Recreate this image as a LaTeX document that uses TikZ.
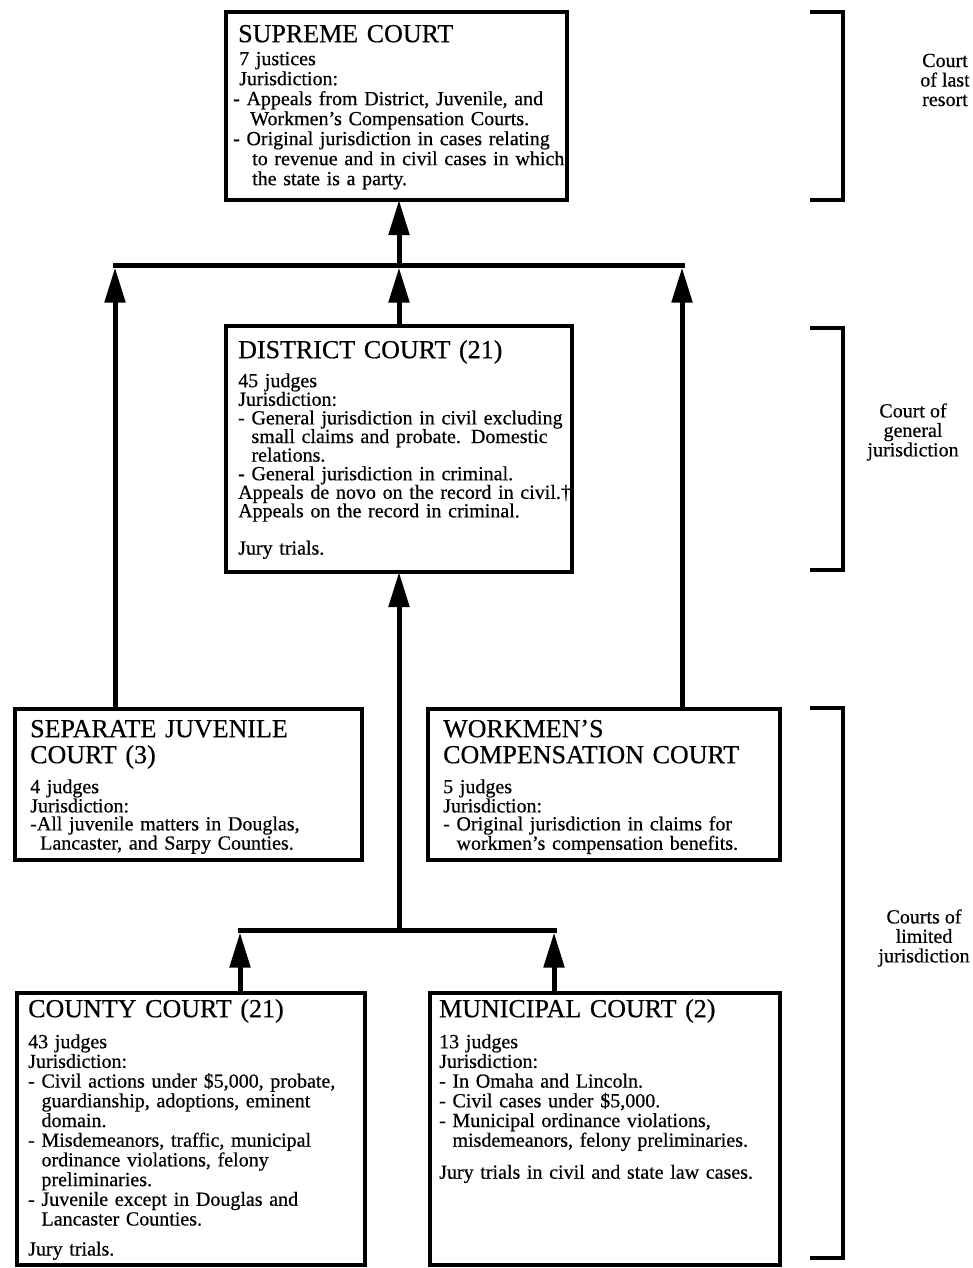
\documentclass[tikz,border=0pt]{standalone}
\usepackage{fontspec}
\setmainfont{Liberation Serif}[FakeBold=0.5]
\usetikzlibrary{arrows.meta}
\lineskiplimit=-100pt
\lineskip=0pt
\begin{document}
\begin{tikzpicture}[x=1pt,y=-1pt,
  courtbox/.style={draw, line width=3.2pt, anchor=north west, inner sep=0pt, outer sep=0pt},
  titletext/.style={anchor=north west, inner sep=0pt, text width=345pt, align=left, font={\fontsize{26}{26}\selectfont}},
  bodytext/.style={anchor=north west, inner sep=0pt, text width=345pt, align=left, font={\fontsize{20}{#1}\selectfont}},
  conn/.style={line width=5pt, line cap=rect},
  arr/.style={line width=5pt, -{Triangle[length=35pt,width=20pt]}},
  bracket/.style={line width=3.5pt},
  sidelabel/.style={align=center, inner sep=0pt, font={\fontsize{20}{19.5}\selectfont}}
]
\fill[white] (0,0) rectangle (973,1268);
\useasboundingbox (0,0) rectangle (973,1268);

% ---- boxes ----
\node[courtbox, minimum width=341pt, minimum height=188pt] (sup) at (226,12) {};
\node[courtbox, minimum width=346pt, minimum height=246pt] (dist) at (226,326) {};
\node[courtbox, minimum width=347pt, minimum height=151pt] (juv) at (15,709) {};
\node[courtbox, minimum width=352pt, minimum height=151pt] (work) at (428,709) {};
\node[courtbox, minimum width=348pt, minimum height=272pt] (county) at (17,993) {};
\node[courtbox, minimum width=350pt, minimum height=272pt] (muni) at (430,993) {};

% ---- titles ----
\node[titletext] (supT) at (238,22) {\rule{0pt}{20pt}SUPREME COURT};
\node[titletext] (distT) at (238,338) {\rule{0pt}{20pt}DISTRICT COURT (21)};
\node[titletext] (juvT) at (30,717) {\rule{0pt}{20pt}SEPARATE JUVENILE\\COURT (3)};
\node[titletext] (workT) at (443,717) {\rule{0pt}{20pt}WORKMEN’S\\COMPENSATION COURT};
\node[titletext] (countyT) at (28,997) {\rule{0pt}{20pt}COUNTY COURT (21)};
\node[titletext] (muniT) at (439,997) {\rule{0pt}{20pt}MUNICIPAL COURT (2)};

% ---- bodies ----
\node[bodytext=20] (supB) at (239,50) {\rule{0pt}{15pt}7 justices\\
Jurisdiction:\\
\hspace*{-6pt}- Appeals from District, Juvenile, and\\
\hspace*{11pt}Workmen’s Compensation Courts.\\
\hspace*{-6pt}- Original jurisdiction in cases relating\\
\hspace*{13pt}to revenue and in civil cases in which\\
\hspace*{13pt}the state is a party.};

\node[bodytext=18.6] (distB) at (238,372) {\rule{0pt}{15pt}45 judges\\
Jurisdiction:\\
- General jurisdiction in civil excluding\\
\hphantom{- }small claims and probate. Domestic\\
\hphantom{- }relations.\\
- General jurisdiction in criminal.\\
Appeals de novo on the record in civil.†\\
Appeals on the record in criminal.\\[18.6pt]
Jury trials.};

\node[bodytext=18] (juvB) at (30,778) {\rule{0pt}{15pt}4 judges\\
Jurisdiction:\\
-All juvenile matters in Douglas,\\
\hspace*{10pt}Lancaster, and Sarpy Counties.};

\node[bodytext=18] (workB) at (443,778) {\rule{0pt}{15pt}5 judges\\
Jurisdiction:\\
- Original jurisdiction in claims for\\
\hphantom{- }workmen’s compensation benefits.};

\node[bodytext=19.7] (countyB) at (28,1033) {\rule{0pt}{15pt}43 judges\\
Jurisdiction:\\
- Civil actions under \$5,000, probate,\\
\hphantom{- }guardianship, adoptions, eminent\\
\hphantom{- }domain.\\
- Misdemeanors, traffic, municipal\\
\hphantom{- }ordinance violations, felony\\
\hphantom{- }preliminaries.\\
- Juvenile except in Douglas and\\
\hphantom{- }Lancaster Counties.\\[10.3pt]
Jury trials.};

\node[bodytext=19.7] (muniB) at (439,1033) {\rule{0pt}{15pt}13 judges\\
Jurisdiction:\\
- In Omaha and Lincoln.\\
- Civil cases under \$5,000.\\
- Municipal ordinance violations,\\
\hphantom{- }misdemeanors, felony preliminaries.\\[12.3pt]
Jury trials in civil and state law cases.};

% ---- connectors ----
\coordinate (busU) at (399,265);
\coordinate (busUL) at (115,265);
\coordinate (busUR) at (682,265);
\coordinate (busD) at (399,930);
\coordinate (busDL) at (240,930);
\coordinate (busDR) at (554,930);

\draw[conn] (busUL) -- (busUR);
\draw[arr] (busU) -- (busU |- sup.south);
\draw[arr] (dist.north) -- ([yshift=-2.5pt]busU);
\draw[arr] (juv.north -| busUL) -- ([yshift=-2.5pt]busUL);
\draw[arr] (work.north -| busUR) -- ([yshift=-2.5pt]busUR);

\draw[conn] (busDL) -- (busDR);
\draw[arr] (busD) -- (dist.south);
\draw[arr] (county.north -| busDL) -- ([yshift=-2.5pt]busDL);
\draw[arr] (muni.north -| busDR) -- ([yshift=-2.5pt]busDR);

% ---- brackets ----
\draw[bracket] (810,12) -- (843,12) -- (843,200) -- (810,200);
\draw[bracket] (810,328) -- (843,328) -- (843,570) -- (810,570);
\draw[bracket] (810,708) -- (843,708) -- (843,1258) -- (810,1258);

\node[sidelabel] (lastL) at (945,80) {Court\\of last\\resort};
\node[sidelabel] (genL) at (913,432) {Court of\\general\\jurisdiction};
\node[sidelabel] (limL) at (924,938) {Courts of\\limited\\jurisdiction};
\end{tikzpicture}
\end{document}
